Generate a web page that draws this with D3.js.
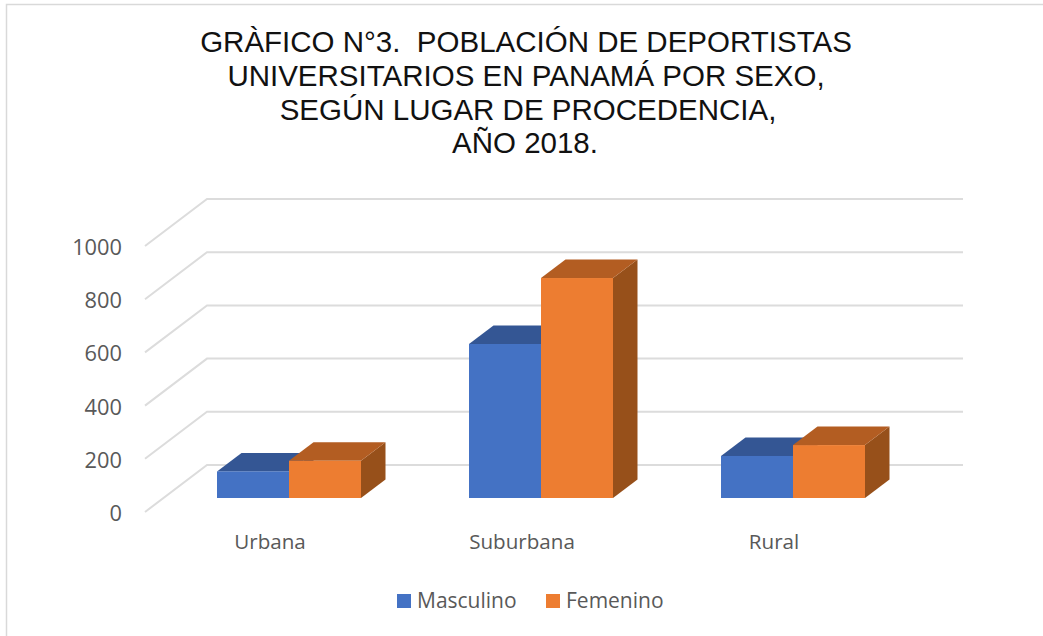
<!DOCTYPE html>
<html>
<head>
<meta charset="utf-8">
<script src="https://cdnjs.cloudflare.com/ajax/libs/d3/7.8.5/d3.min.js"></script>
<style>
body { margin: 0; background: #fff; }
svg { display: block; }
.tick text, .catLabel, .legendText { font-family: "Open Sans", sans-serif; fill: #595959; }
.titleLine { font-family: "Liberation Sans", Arial, sans-serif; font-size: 29.5px; fill: #111; text-anchor: middle; }
</style>
</head>
<body>
<div class="chart"></div>
<script>
// values
var categories = ["Urbana", "Suburbana", "Rural"];
var seriesNames = ["Masculino", "Femenino"];
var masculino = [100, 579, 158];
var femenino = [140, 827, 199];
var yTicks = [0, 200, 400, 600, 800, 1000];
var titleLines = [
    "GRÀFICO N°3.  POBLACIÓN DE DEPORTISTAS",
    "UNIVERSITARIOS EN PANAMÁ POR SEXO,",
    "SEGÚN LUGAR DE PROCEDENCIA,",
    "AÑO 2018."
];
var titleX = [526, 526, 528, 525];
var titleY = [52, 86, 120, 153];

var svgWidth = 1043;
var svgHeight = 636;
var colors = ["#4472c4", "#ed7d31"];
var topColors = ["#345694", "#b35d22"];
var sideColors = ["#2f4f88", "#97501a"];

// floor depth of the whole 3d box and of the bars
var wallDx = 62, wallDy = -47;
var barDx = 24.5, barDy = -18.5;
var barShiftX = 18, barShiftY = -14;

var svg = d3.select(".chart")
    .append("svg")
    .attr("width", svgWidth)
    .attr("height", svgHeight);

// outer chart border, only left and top show in the picture
svg.append("path")
    .attr("d", "M6.5,636V4.5H1043")
    .attr("fill", "none")
    .attr("stroke", "#d9d9d9")
    .attr("stroke-width", 1.5);

svg.selectAll(".titleLine")
    .data(titleLines)
    .enter()
    .append("text")
    .attr("class", "titleLine")
    .attr("x", function(d, i) { return titleX[i]; })
    .attr("y", function(d, i) { return titleY[i]; })
    .style("white-space", "pre")
    .text(function(d) { return d; });

var xBand = d3.scaleBand()
    .domain(categories)
    .range([145, 901])
    .paddingInner(108 / 252)
    .paddingOuter(54 / 252);

var xSeries = d3.scaleBand()
    .domain(seriesNames)
    .range([0, xBand.bandwidth()]);

var yScale = d3.scaleLinear()
    .domain([0, 1000])
    .range([512, 246]);

// gridlines: slanted part on the floor side and flat part on the back wall
svg.append("g")
    .selectAll("path")
    .data(yTicks)
    .enter()
    .append("path")
    .attr("d", function(d) {
        var y = yScale(d);
        return "M145," + y + "L" + (145 + wallDx) + "," + (y + wallDy) + "H" + (901 + wallDx);
    })
    .attr("fill", "none")
    .attr("stroke", "#dcdcdc")
    .attr("stroke-width", 2);

var leftAxis = d3.axisLeft(yScale).tickValues(yTicks).tickSize(0).tickPadding(0).tickFormat(d3.format("d"));
var yAxis = svg.append("g")
    .attr("transform", "translate(122,1.5)")
    .call(leftAxis);
yAxis.select(".domain").remove();
yAxis.selectAll("text").style("font-size", "21.8px");

var bottomAxis = d3.axisBottom(xBand).tickSize(0).tickPadding(0);
var xAxis = svg.append("g")
    .attr("transform", "translate(-1,534)")
    .call(bottomAxis);
xAxis.select(".domain").remove();
xAxis.selectAll("text").style("font-size", "20.6px");

// flatten to one record per bar
var bars = [];
categories.forEach(function(cat, i) {
    bars.push({cat: cat, s: 0, value: masculino[i]});
    bars.push({cat: cat, s: 1, value: femenino[i]});
});

var barGroup = svg.selectAll(".bar")
    .data(bars)
    .enter()
    .append("g")
    .attr("class", "bar");

function barBox(d) {
    var x0 = xBand(d.cat) + xSeries(seriesNames[d.s]) + barShiftX;
    return {
        x0: x0,
        x1: x0 + xSeries.bandwidth(),
        top: yScale(d.value) + barShiftY,
        base: yScale(0) + barShiftY
    };
}

barGroup.append("path")
    .attr("fill", function(d) { return sideColors[d.s]; })
    .attr("d", function(d) {
        var b = barBox(d);
        return "M" + b.x1 + "," + b.top + "L" + (b.x1 + barDx) + "," + (b.top + barDy) +
            "V" + (b.base + barDy) + "L" + b.x1 + "," + b.base + "Z";
    });

barGroup.append("path")
    .attr("fill", function(d) { return topColors[d.s]; })
    .attr("d", function(d) {
        var b = barBox(d);
        return "M" + b.x0 + "," + b.top + "L" + (b.x0 + barDx) + "," + (b.top + barDy) +
            "H" + (b.x1 + barDx) + "L" + b.x1 + "," + b.top + "Z";
    });

barGroup.append("rect")
    .attr("x", function(d) { return barBox(d).x0; })
    .attr("y", function(d) { return barBox(d).top; })
    .attr("width", xSeries.bandwidth())
    .attr("height", function(d) { var b = barBox(d); return b.base - b.top; })
    .attr("fill", function(d) { return colors[d.s]; });

// legend
var legendX = [397, 546];
var legend = svg.selectAll(".legendItem")
    .data(seriesNames)
    .enter()
    .append("g")
    .attr("class", "legendItem")
    .attr("transform", function(d, i) { return "translate(" + legendX[i] + ",594)"; });

legend.append("rect")
    .attr("width", 14)
    .attr("height", 14)
    .attr("fill", function(d, i) { return colors[i]; });

legend.append("text")
    .attr("class", "legendText")
    .attr("x", 20)
    .attr("y", 14)
    .style("font-size", "21px")
    .text(function(d) { return d; });
</script>
</body>
</html>
